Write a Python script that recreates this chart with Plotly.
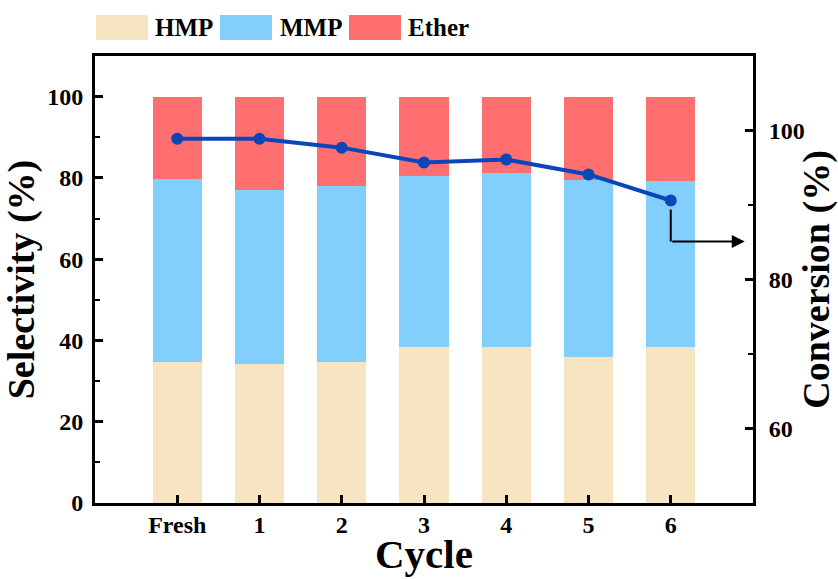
import plotly.graph_objects as go

categories = ["Fresh", "1", "2", "3", "4", "5", "6"]
hmp = [34.7, 34.1, 34.8, 38.4, 38.3, 36.0, 38.5]
mmp_top = [79.7, 77.0, 78.1, 80.5, 81.1, 79.6, 79.3]
mmp = [round(t - h, 2) for t, h in zip(mmp_top, hmp)]
ether = [round(100 - t, 2) for t in mmp_top]
conversion = [98.9, 98.9, 97.7, 95.7, 96.1, 94.1, 90.6]

FONT = "Liberation Serif"
c_hmp = "#F7E4C0"
c_mmp = "#82CEFD"
c_eth = "#FF6F6F"
c_line = "#0B46B9"

xs = list(range(len(categories)))

fig = go.Figure()
fig.add_trace(go.Bar(x=xs, y=hmp, name="HMP", marker=dict(color=c_hmp, line=dict(width=0)), width=0.6))
fig.add_trace(go.Bar(x=xs, y=mmp, name="MMP", marker=dict(color=c_mmp, line=dict(width=0)), width=0.6))
fig.add_trace(go.Bar(x=xs, y=ether, name="Ether", marker=dict(color=c_eth, line=dict(width=0)), width=0.6))
fig.add_trace(go.Scatter(x=xs, y=conversion, yaxis="y2", mode="lines+markers",
                         line=dict(color=c_line, width=4), marker=dict(color=c_line, size=12),
                         name="Conversion"))

tickfont = dict(family=FONT, size=24, color="black", weight="bold")
titlefont = dict(family=FONT, size=38, color="black", weight="bold")

fig.update_layout(
    width=838, height=579,
    margin=dict(l=95, r=85, t=56, b=76),
    paper_bgcolor="white", plot_bgcolor="white",
    barmode="stack", bargap=0.4, showlegend=False,
    font=dict(family=FONT, color="black"),
    xaxis=dict(range=[-1, 7], tickmode="array", tickvals=xs, ticktext=categories,
               showline=True, linecolor="black", linewidth=3, mirror=True, automargin=False,
               ticks="inside", ticklen=8, tickwidth=2.5, tickcolor="black",
               showgrid=False, zeroline=False, tickfont=tickfont, ticklabelstandoff=-2),
    yaxis=dict(range=[0, 110], tickvals=[0, 20, 40, 60, 80, 100], automargin=False,
               showline=True, linecolor="black", linewidth=3,
               ticks="inside", ticklen=8, tickwidth=2.5, tickcolor="black",
               minor=dict(tickvals=[10, 30, 50, 70, 90], ticks="inside", ticklen=5, tickwidth=2, tickcolor="black"),
               showgrid=False, zeroline=False, tickfont=tickfont, ticklabelstandoff=4,
               title=dict(text="Selectivity (%)", font=titlefont, standoff=8)),
    yaxis2=dict(range=[50, 110], tickvals=[60, 80, 100], overlaying="y", side="right", automargin=False,
                showline=True, linecolor="black", linewidth=3,
                ticks="inside", ticklen=8, tickwidth=2.5, tickcolor="black",
                minor=dict(tickvals=[70, 90], ticks="inside", ticklen=5, tickwidth=2, tickcolor="black"),
                showgrid=False, zeroline=False, tickfont=tickfont, ticklabelstandoff=8,
                title=dict(text="Conversion (%)", font=titlefont, standoff=10)),
)

# x-axis title placed explicitly
fig.add_annotation(xref="paper", yref="paper", x=0.5, y=(503 - 579) / 447,
                   xanchor="center", yanchor="bottom", showarrow=False, text="Cycle",
                   font=dict(family=FONT, size=41, color="black", weight="bold"))

# Arrow pointing from the conversion line to the right axis
fig.add_shape(type="line", xref="x", yref="y2", x0=6, x1=6, y0=conversion[-1] - 1.2, y1=85.1,
              line=dict(color="black", width=2))
fig.add_annotation(xref="x", yref="y2", axref="x", ayref="y2", x=6.9, y=85.1, ax=6, ay=85.1,
                   text="", showarrow=True, arrowhead=2, arrowsize=1.3, arrowwidth=2, arrowcolor="black")

# Custom legend at the top
legend_items = [("HMP", c_hmp, 96, 153), ("MMP", c_mmp, 220, 278), ("Ether", c_eth, 349, 406)]
for name, col, x0, tx in legend_items:
    fig.add_shape(type="rect", xref="paper", yref="paper",
                  x0=(x0 - 95) / 658, x1=(x0 + 52 - 95) / 658,
                  y0=(503 - 40) / 447, y1=(503 - 15) / 447,
                  line=dict(width=0), fillcolor=col)
    fig.add_annotation(xref="paper", yref="paper", x=(tx - 95) / 658, y=(503 - 27.5) / 447,
                       xanchor="left", yanchor="middle", showarrow=False, text=name,
                       font=dict(family=FONT, size=25, color="black", weight="bold"))

fig.write_html("out.html")
